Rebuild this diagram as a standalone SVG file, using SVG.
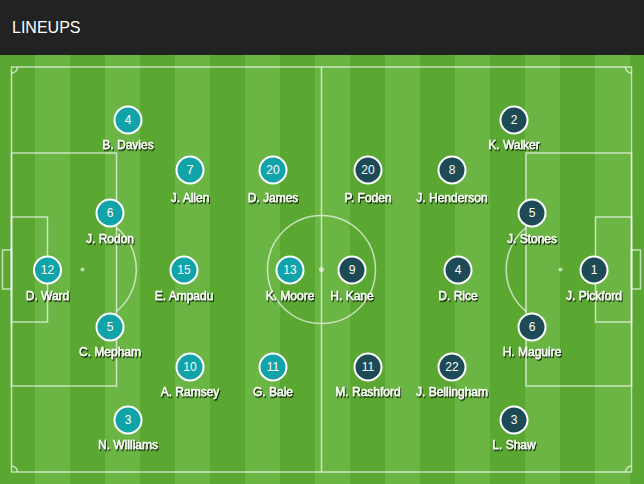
<svg xmlns="http://www.w3.org/2000/svg" width="644" height="484" viewBox="0 0 644 484">
<defs>
<style>
.hdr{fill:#222222}
.dk{fill:#5aa832}
.lt{fill:#6bb545}
.ln{fill:none;stroke:#ffffff;stroke-opacity:0.65;stroke-width:1.5}
.spot{fill:#ffffff;fill-opacity:0.6}
.w circle{fill:#10a3a7;stroke:#ffffff;stroke-width:2}
.e circle{fill:#1d4b55;stroke:#ffffff;stroke-width:2}
.num{font-family:"Liberation Sans",Arial,sans-serif;font-size:12px;fill:#ffffff;text-anchor:middle}
.nm{font-family:"Liberation Sans",Arial,sans-serif;font-size:12px;fill:#ffffff;stroke:#ffffff;stroke-width:0.35;text-anchor:middle;filter:url(#sh)}
.title{font-family:"Liberation Sans",Arial,sans-serif;font-size:16px;fill:#ffffff}
</style>
<filter id="sh" x="-20%" y="-40%" width="140%" height="180%">
<feDropShadow dx="1" dy="1.5" stdDeviation="0.7" flood-color="#000000" flood-opacity="0.85"/>
</filter>
</defs>
<rect class="hdr" x="0" y="0" width="644" height="55"/>
<text class="title" x="12" y="33">LINEUPS</text>
<g id="pitch">
<rect class="dk" x="0" y="55" width="644" height="429"/>
<rect class="lt" x="35" y="55" width="35" height="429"/>
<rect class="lt" x="105" y="55" width="35" height="429"/>
<rect class="lt" x="175" y="55" width="35" height="429"/>
<rect class="lt" x="245" y="55" width="35" height="429"/>
<rect class="lt" x="315" y="55" width="35" height="429"/>
<rect class="lt" x="385" y="55" width="35" height="429"/>
<rect class="lt" x="455" y="55" width="35" height="429"/>
<rect class="lt" x="525" y="55" width="35" height="429"/>
<rect class="lt" x="595" y="55" width="35" height="429"/>
<rect class="ln" x="11.5" y="67" width="620" height="405"/>
<line class="ln" x1="321.5" y1="67" x2="321.5" y2="472"/>
<circle class="ln" cx="321.5" cy="269.5" r="54"/>
<circle class="spot" cx="321.5" cy="269.5" r="2.5"/>
<rect class="ln" x="11.5" y="153" width="105" height="233"/>
<rect class="ln" x="11.5" y="217" width="36" height="105"/>
<rect class="ln" x="2.5" y="250" width="9" height="39"/>
<circle class="spot" cx="82.5" cy="269.5" r="2"/>
<path class="ln" d="M116.5 227.7 A54 54 0 0 1 116.5 311.3"/>
<rect class="ln" x="526" y="153" width="105.5" height="233"/>
<rect class="ln" x="595.5" y="217" width="36" height="105"/>
<rect class="ln" x="631.5" y="250" width="9" height="39"/>
<circle class="spot" cx="560.5" cy="269.5" r="2"/>
<path class="ln" d="M526 227.7 A54 54 0 0 0 526 311.3"/>
<path class="ln" d="M11.5 73 A6 6 0 0 0 17.5 67"/>
<path class="ln" d="M625.5 67 A6 6 0 0 0 631.5 73"/>
<path class="ln" d="M11.5 466 A6 6 0 0 1 17.5 472"/>
<path class="ln" d="M625.5 472 A6 6 0 0 1 631.5 466"/>
</g>
<g id="connectors"></g>
<g id="wal-4" class="w"><circle cx="128" cy="120" r="13.5"/><text class="num" x="128" y="124">4</text><text class="nm" x="128" y="149">B. Davies</text></g>
<g id="wal-7" class="w"><circle cx="190" cy="170" r="13.5"/><text class="num" x="190" y="174">7</text><text class="nm" x="190" y="202">J. Allen</text></g>
<g id="wal-20" class="w"><circle cx="273" cy="170" r="13.5"/><text class="num" x="273" y="174">20</text><text class="nm" x="273" y="202">D. James</text></g>
<g id="wal-6" class="w"><circle cx="110" cy="213" r="13.5"/><text class="num" x="110" y="217">6</text><text class="nm" x="110" y="243">J. Rodon</text></g>
<g id="wal-12" class="w"><circle cx="47.5" cy="270" r="13.5"/><text class="num" x="47.5" y="274">12</text><text class="nm" x="47.5" y="300">D. Ward</text></g>
<g id="wal-15" class="w"><circle cx="184" cy="270" r="13.5"/><text class="num" x="184" y="274">15</text><text class="nm" x="184" y="300">E. Ampadu</text></g>
<g id="wal-13" class="w"><circle cx="290" cy="270" r="13.5"/><text class="num" x="290" y="274">13</text><text class="nm" x="290" y="300">K. Moore</text></g>
<g id="wal-5" class="w"><circle cx="110" cy="327" r="13.5"/><text class="num" x="110" y="331">5</text><text class="nm" x="110" y="356">C. Mepham</text></g>
<g id="wal-10" class="w"><circle cx="190" cy="367" r="13.5"/><text class="num" x="190" y="371">10</text><text class="nm" x="190" y="396">A. Ramsey</text></g>
<g id="wal-11" class="w"><circle cx="273" cy="367" r="13.5"/><text class="num" x="273" y="371">11</text><text class="nm" x="273" y="396">G. Bale</text></g>
<g id="wal-3" class="w"><circle cx="128" cy="420" r="13.5"/><text class="num" x="128" y="424">3</text><text class="nm" x="128" y="449">N. Williams</text></g>
<g id="eng-2" class="e"><circle cx="514" cy="120" r="13.5"/><text class="num" x="514" y="124">2</text><text class="nm" x="514" y="149">K. Walker</text></g>
<g id="eng-20" class="e"><circle cx="368" cy="170" r="13.5"/><text class="num" x="368" y="174">20</text><text class="nm" x="368" y="202">P. Foden</text></g>
<g id="eng-8" class="e"><circle cx="452" cy="170" r="13.5"/><text class="num" x="452" y="174">8</text><text class="nm" x="452" y="202">J. Henderson</text></g>
<g id="eng-5" class="e"><circle cx="532" cy="213" r="13.5"/><text class="num" x="532" y="217">5</text><text class="nm" x="532" y="243">J. Stones</text></g>
<g id="eng-9" class="e"><circle cx="352" cy="270" r="13.5"/><text class="num" x="352" y="274">9</text><text class="nm" x="352" y="300">H. Kane</text></g>
<g id="eng-4" class="e"><circle cx="458" cy="270" r="13.5"/><text class="num" x="458" y="274">4</text><text class="nm" x="458" y="300">D. Rice</text></g>
<g id="eng-1" class="e"><circle cx="594" cy="270" r="13.5"/><text class="num" x="594" y="274">1</text><text class="nm" x="594" y="300">J. Pickford</text></g>
<g id="eng-6" class="e"><circle cx="532" cy="327" r="13.5"/><text class="num" x="532" y="331">6</text><text class="nm" x="532" y="356">H. Maguire</text></g>
<g id="eng-11" class="e"><circle cx="368" cy="367" r="13.5"/><text class="num" x="368" y="371">11</text><text class="nm" x="368" y="396">M. Rashford</text></g>
<g id="eng-22" class="e"><circle cx="452" cy="367" r="13.5"/><text class="num" x="452" y="371">22</text><text class="nm" x="452" y="396">J. Bellingham</text></g>
<g id="eng-3" class="e"><circle cx="514" cy="420" r="13.5"/><text class="num" x="514" y="424">3</text><text class="nm" x="514" y="449">L. Shaw</text></g>
</svg>
